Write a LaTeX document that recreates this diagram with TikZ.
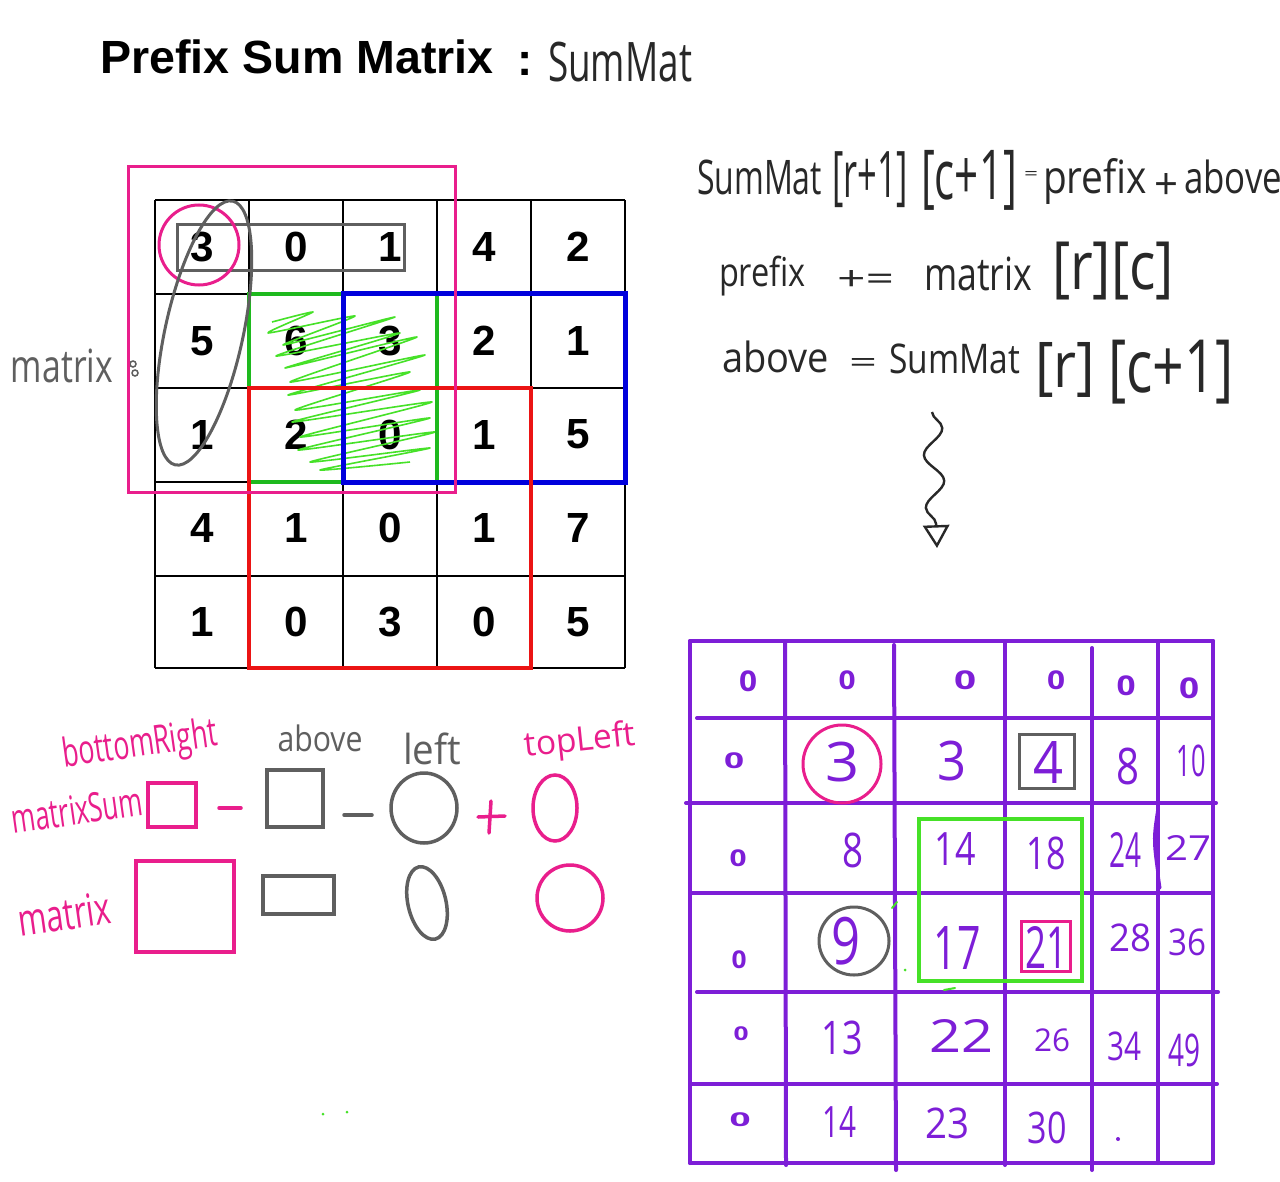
\documentclass[tikz,border=0pt]{standalone}
\usepackage{fontspec}
\usepackage{graphicx}
\setmainfont{Liberation Sans}
\newfontfamily\hand{Open Sans}
\usetikzlibrary{shapes.geometric,decorations.pathmorphing,arrows.meta}
\newlength{\px}\setlength{\px}{0.02cm}
\newcommand{\hw}[3]{\resizebox*{#1\px}{#2\px}{\hand #3}}
\newcommand{\hwb}[3]{\resizebox*{#1\px}{#2\px}{\hand\bfseries #3}}
\definecolor{mag}{RGB}{233,30,140}
\definecolor{gry}{RGB}{95,95,95}
\definecolor{ink}{RGB}{40,40,40}
\definecolor{purp}{RGB}{125,30,215}
\definecolor{lgreen}{RGB}{70,225,40}
\definecolor{dgreen}{RGB}{30,185,30}
\definecolor{blu}{RGB}{0,0,220}
\definecolor{rd}{RGB}{235,20,20}
\tikzset{
  hwn/.style={inner sep=0pt, outer sep=0pt},
  eqn/.style={inner sep=0pt, outer sep=0pt, text=ink},
  gridline/.style={draw=black, line width=2\px},
  cellnum/.style={inner sep=0pt, font=\bfseries\fontsize{24}{26}\selectfont},
  pline/.style={draw=purp, line width=4\px, line cap=round},
  pnum/.style={inner sep=0pt, text=purp},
  magpen/.style={draw=mag, line width=3.5\px},
  grypen/.style={draw=gry, line width=3.5\px},
}
\begin{document}
\begin{tikzpicture}[x=0.02cm,y=-0.02cm]
\useasboundingbox (0,0) rectangle (1280,1182);
\fill[white] (0,0) rectangle (1280,1182);

% ---------- title ----------
\node[anchor=base west, inner sep=0pt, font=\bfseries\fontsize{26.5}{30}\selectfont] (title) at (100,74) {Prefix Sum Matrix};
\node[anchor=base west, inner sep=0pt, font=\bfseries\fontsize{26}{30}\selectfont] (colon) at (517,76) {:};
\node[hwn, text=ink] (tsm) at (620,62) {\hw{144}{40}{SumMat}};

% ---------- left matrix ----------
\foreach \x in {155,249,343,437,531,625} \draw[gridline] (\x,200) -- (\x,668);
\foreach \y in {200,294,388,482,576,668} \draw[gridline] (155,\y) -- (625,\y);
\foreach \r/\vals in {0/{3,0,1,4,2},1/{5,6,3,2,1},2/{1,2,0,1,5},3/{4,1,0,1,7},4/{1,0,3,0,5}}{
  \foreach \v [count=\c from 0] in \vals {
    \node[cellnum] (m\r\c) at ({202+94*\c},{247+93.8*\r}) {\v};
  }
}
\node[hwn, text=gry] (lmat) at (62,366) {\hw{102}{34}{matrix}};
\draw[gry, line width=1.5\px] (133,364) circle [radius=3];
\draw[gry, line width=1.5\px] (135,373) circle [radius=3];

% green scribble
\draw[lgreen, line width=1.6\px, line join=round] plot[smooth, tension=0.35] coordinates {
(272,322) (313,312) (268,333) (355,316) (283,345) (395,317) (276,356) (400,333)
(285,368) (417,337) (290,382) (425,355) (288,395) (410,372) (295,410) (420,390)
(292,422) (432,402) (300,437) (430,418) (298,450) (435,432) (310,462) (430,448)
(320,470) (410,462)};

% coloured frames
\draw[dgreen, line width=4.5\px] (249,294) rectangle (437,482);
\draw[blu, line width=5\px] (343,294) rectangle (625,482);
\draw[rd, line width=4.5\px] (249,388) rectangle (531,668);
\draw[mag, line width=3\px] (128,167) rectangle (455,492);
\draw[gry, line width=3\px] (177,225) rectangle (404,271);
\node[draw=mag, line width=3\px, circle, minimum size=80\px, inner sep=0pt] (c3) at (199,245) {};
\node[draw=gry, line width=3\px, ellipse, rotate=77.7, minimum width=270\px, minimum height=78\px, inner sep=0pt] (ell) at (204,333) {};

% ---------- equations ----------
% line 1
\node[eqn, anchor=south west] (e1a) at (697,195) {\hw{125}{35}{SumMat}};
\node[eqn, anchor=south west] (e1b) at (832,208) {\hw{76}{56}{[r+1]}};
\node[eqn, anchor=south west] (e1c) at (921,210) {\hw{96}{60}{[c+1]}};
\node[eqn, anchor=south west] (e1d) at (1024,180) {\hw{14}{8}{=}};
\node[eqn, anchor=south west] (e1e) at (1043,204) {\hw{104}{46}{prefix}};
\node[eqn, anchor=south west] (e1f) at (1154,200) {\hw{24}{26}{+}};
\node[eqn, anchor=south west] (e1g) at (1184,194) {\hw{98}{34}{above}};
% line 2
\node[eqn, anchor=south west] (e2a) at (719,296) {\hw{87}{40}{prefix}};
\node[eqn, anchor=south west] (e2b) at (837,290) {\hw{57}{20}{+=}};
\node[eqn, anchor=south west] (e2c) at (924,291) {\hw{108}{34}{matrix}};
\node[eqn, anchor=south west] (e2d) at (1052,300) {\hw{122}{58}{[r][c]}};
% line 3
\node[eqn, anchor=south west] (e3a) at (722,373) {\hw{107}{32}{above}};
\node[eqn, anchor=south west] (e3b) at (849,372) {\hw{28}{14}{=}};
\node[eqn, anchor=south west] (e3c) at (889,374) {\hw{131}{30}{SumMat}};
\node[eqn, anchor=south west] (e3d) at (1035,397) {\hw{60}{55}{[r]}};
\node[eqn, anchor=south west] (e3e) at (1108,404) {\hw{126}{64}{[c+1]}};
\coordinate (sqA) at (932,412);
\coordinate (sqB) at (937,548);
\draw[ink, line width=2.4\px, decorate, decoration={snake, amplitude=5.5pt, segment length=30pt, post length=12pt},
  -{Triangle[open, length=13pt, width=15pt]}] (sqA) -- (sqB);

% ---------- legend ----------
\node[hwn, text=mag, rotate=8] (lbr) at (140,746) {\hw{156}{40}{bottomRight}};
\node[hwn, text=gry] (lab) at (320,738) {\hw{85}{27}{above}};
\node[hwn, text=gry] (lle) at (432,749) {\hw{58}{32}{left}};
\node[hwn, text=mag, rotate=6] (ltl) at (580,742) {\hw{112}{34}{topLeft}};
\node[hwn, text=mag, rotate=8] (lms) at (77,810) {\hw{132}{30}{matrixSum}};
\node[hwn, text=mag, rotate=8] (lmx) at (64,914) {\hw{93}{33}{matrix}};

\draw[magpen] (148,783) rectangle (196,827);
\draw[magpen, line cap=round] (219,808) -- (241,808);
\draw[grypen] (267,770) rectangle (323,827);
\draw[grypen, line cap=round] (344,815) -- (372,815);
\draw[grypen] (424,808) ellipse [x radius=33, y radius=35];
\draw[magpen, line cap=round] (478,817) -- (505,816);
\draw[magpen, line cap=round] (491,801) -- (489,833);
\draw[magpen] (555,808) ellipse [x radius=22, y radius=33];

\draw[magpen] (136,861) rectangle (234,952);
\draw[grypen] (263,876) rectangle (334,914);
\node[draw=gry, line width=3.5\px, ellipse, rotate=103, minimum width=74\px, minimum height=38\px, inner sep=0pt] (lell) at (427,903) {};
\draw[magpen] (570,898) circle [radius=33];
\fill[lgreen] (323,1114) circle [radius=1.5];
\fill[lgreen] (347,1112) circle [radius=1.5];

% ---------- right prefix-sum grid ----------
\draw[pline] (690,641) -- (1213,641);
\draw[pline] (697,718) -- (1210,718);
\draw[pline] (686,803) -- (1216,803);
\draw[pline] (690,893) -- (1213,893);
\draw[pline] (697,992) -- (1218,992);
\draw[pline] (690,1084) -- (1217,1084);
\draw[pline] (690,1163) -- (1213,1163);
\draw[pline] (690,641) -- (690,1163);
\draw[pline] (785,641) -- (786,1165);
\draw[pline] (894,645) -- (896,1170);
\draw[pline] (1005,641) -- (1005,1165);
\draw[pline] (1092,648) -- (1092,1170);
\draw[pline] (1158,641) -- (1158,1163);
\draw[pline] (1213,641) -- (1213,1163);
\draw[purp, line width=3\px, line cap=round] (1158,808) .. controls (1153,840) .. (1160,888);

% row 0
\node[pnum] (s00) at (748,681) {\hwb{18}{21}{0}};
\node[pnum] (s01) at (847,680) {\hwb{17}{19}{0}};
\node[pnum] (s02) at (965,680) {\hwb{22}{19}{0}};
\node[pnum] (s03) at (1056,680) {\hwb{18}{19}{0}};
\node[pnum] (s04) at (1126,686) {\hwb{19}{20}{0}};
\node[pnum] (s05) at (1189,688) {\hwb{20}{21}{0}};
% column 0
\node[pnum] (s10) at (734,761) {\hwb{20}{16}{0}};
\node[pnum] (s20) at (738,858) {\hwb{17}{17}{0}};
\node[pnum] (s30) at (739,960) {\hwb{15}{18}{0}};
\node[pnum] (s40) at (741,1034) {\hwb{15}{14}{0}};
\node[pnum] (s50) at (740,1120) {\hwb{21}{14}{0}};
% row 1
\node[pnum] (s11) at (842,762) {\hw{34}{40}{3}};
\node[pnum] (s12) at (952,761) {\hw{29}{40}{3}};
\node[pnum] (s13) at (1048,762) {\hw{30}{42}{4}};
\node[pnum] (s14) at (1128,766) {\hw{23}{37}{8}};
\node[pnum] (s15) at (1191,761) {\hw{29}{32}{10}};
% row 2
\node[pnum] (s21) at (853,850) {\hw{21}{35}{8}};
\node[pnum] (s22) at (955,849) {\hw{41}{33}{14}};
\node[pnum] (s23) at (1046,853) {\hw{39}{33}{18}};
\node[pnum] (s24) at (1125,850) {\hw{32}{35}{24}};
\node[pnum] (s25) at (1188,848) {\hw{46}{25}{27}};
% row 3
\node[pnum] (s31) at (846,941) {\hw{29}{48}{9}};
\node[pnum] (s32) at (957,948) {\hw{47}{43}{17}};
\node[pnum] (s33) at (1046,947) {\hw{42}{42}{21}};
\node[pnum] (s34) at (1130,938) {\hw{42}{28}{28}};
\node[pnum] (s35) at (1187,942) {\hw{38}{27}{36}};
% row 4
\node[pnum] (s41) at (842,1038) {\hw{41}{34}{13}};
\node[pnum] (s42) at (961,1036) {\hw{64}{33}{22}};
\node[pnum] (s43) at (1052,1040) {\hw{36}{23}{26}};
\node[pnum] (s44) at (1124,1046) {\hw{34}{29}{34}};
\node[pnum] (s45) at (1184,1050) {\hw{32}{33}{49}};
% row 5
\node[pnum] (s51) at (839,1122) {\hw{34}{31}{14}};
\node[pnum] (s52) at (947,1123) {\hw{44}{31}{23}};
\node[pnum] (s53) at (1047,1128) {\hw{39}{32}{30}};
\fill[purp] (1118,1139) circle [radius=2];

% highlights on the right grid
\draw[lgreen, line width=3.5\px] (919,819) rectangle (1082,981);
\draw[mag, line width=3\px] (842,764) circle [radius=39];
\draw[gry, line width=3\px] (1019,734) rectangle (1074,788);
\draw[gry, line width=3\px] (854,941) ellipse [x radius=35, y radius=34];
\draw[mag, line width=3\px] (1021,921) rectangle (1070,971);
\draw[lgreen, line width=2\px, line cap=round] (892,908) -- (897,902);
\fill[lgreen] (905,970) circle [radius=1.5];
\draw[lgreen, line width=2\px, line cap=round] (944,990) -- (955,988);
\end{tikzpicture}
\end{document}
